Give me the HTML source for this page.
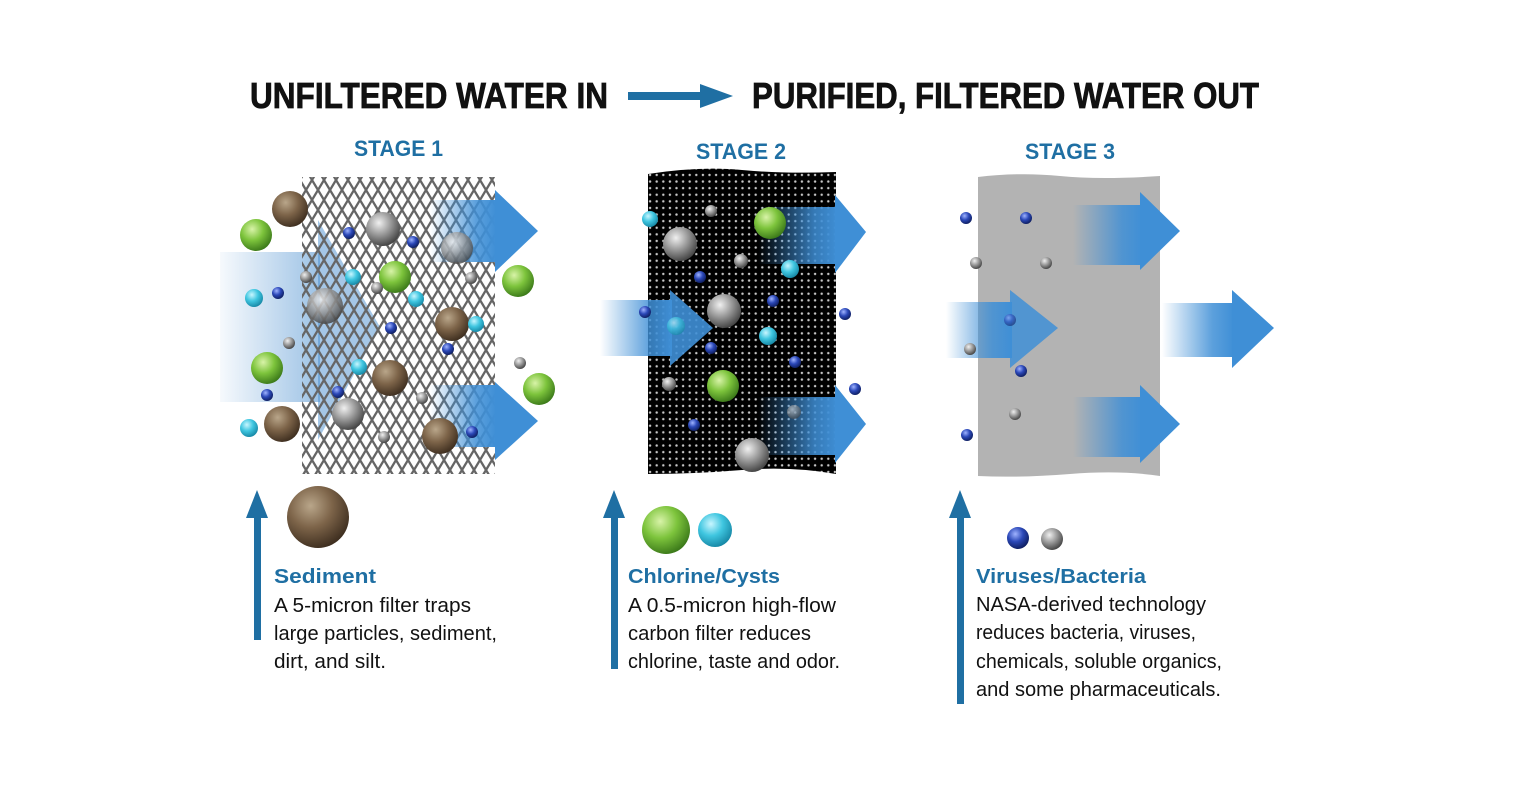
<!DOCTYPE html>
<html><head><style>
html,body{margin:0;padding:0;background:#fff;}
svg{display:block;}
</style></head><body>
<svg width="1536" height="803" viewBox="0 0 1536 803" xmlns="http://www.w3.org/2000/svg">
<defs>
<radialGradient id="gBrown" cx="0.38" cy="0.32" r="0.7"><stop offset="0" stop-color="#b9a68a"/><stop offset="0.5" stop-color="#7d6449"/><stop offset="1" stop-color="#3f2f20"/></radialGradient>
<radialGradient id="gGreen" cx="0.38" cy="0.32" r="0.7"><stop offset="0" stop-color="#d8f3a8"/><stop offset="0.5" stop-color="#7dc43c"/><stop offset="1" stop-color="#3c7a1a"/></radialGradient>
<radialGradient id="gCyan" cx="0.38" cy="0.32" r="0.7"><stop offset="0" stop-color="#c8f6ff"/><stop offset="0.5" stop-color="#3fc6e0"/><stop offset="1" stop-color="#1788a6"/></radialGradient>
<radialGradient id="gGray" cx="0.38" cy="0.32" r="0.7"><stop offset="0" stop-color="#f0f0f0"/><stop offset="0.5" stop-color="#9a9a9a"/><stop offset="1" stop-color="#444"/></radialGradient>
<radialGradient id="gBlue" cx="0.38" cy="0.32" r="0.7"><stop offset="0" stop-color="#9fb3ff"/><stop offset="0.5" stop-color="#2b48b8"/><stop offset="1" stop-color="#0e1e60"/></radialGradient>
<linearGradient id="fadeR" x1="0" x2="1" y1="0" y2="0"><stop offset="0" stop-color="#3f8fd6" stop-opacity="0"/><stop offset="0.7" stop-color="#3f8fd6" stop-opacity="0.85"/><stop offset="1" stop-color="#3f8fd6" stop-opacity="1"/></linearGradient>
<linearGradient id="fadeBig" x1="0" x2="1" y1="0" y2="0"><stop offset="0" stop-color="#4c90d0" stop-opacity="0.05"/><stop offset="1" stop-color="#4c90d0" stop-opacity="0.55"/></linearGradient>
<pattern id="mesh" width="12" height="20" patternUnits="userSpaceOnUse">
<path d="M0 0 L6 10 L0 20 M12 0 L6 10 L12 20" fill="none" stroke="#666" stroke-width="2.3"/>
</pattern>
<pattern id="dots" width="6.6" height="6.6" patternUnits="userSpaceOnUse">
<rect width="6.6" height="6.6" fill="#000"/><circle cx="3.3" cy="3.3" r="1.2" fill="#c8c8c8"/>
</pattern>
</defs>

<g font-family="Liberation Sans, sans-serif" font-weight="bold" fill="#111" stroke="#111" stroke-width="0.8">
<text x="250" y="108" font-size="36" textLength="358" lengthAdjust="spacingAndGlyphs">UNFILTERED WATER IN</text>
<text x="752" y="108" font-size="36" textLength="507" lengthAdjust="spacingAndGlyphs">PURIFIED, FILTERED WATER OUT</text>
</g>
<rect x="628" y="92" width="75" height="8" fill="#1f6fa3"/>
<polygon points="700,84 733,96 700,108" fill="#1f6fa3"/>

<g font-family="Liberation Sans, sans-serif" font-weight="bold" fill="#1f6fa3" font-size="22">
<text x="354" y="156" textLength="89" lengthAdjust="spacingAndGlyphs">STAGE 1</text>
<text x="696" y="159" textLength="90" lengthAdjust="spacingAndGlyphs">STAGE 2</text>
<text x="1025" y="159" textLength="90" lengthAdjust="spacingAndGlyphs">STAGE 3</text>
</g>

<rect x="220" y="252" width="100" height="150" fill="url(#fadeBig)"/>
<polygon points="318,220 380,327 318,440" fill="#4c90d0" fill-opacity="0.5"/>
<rect x="302" y="177" width="193" height="297" fill="url(#mesh)"/>
<rect x="430" y="200" width="66" height="62" fill="url(#fadeR)"/>
<polygon points="495,190 538,231 495,272" fill="#3f8fd6"/>
<rect x="430" y="385" width="66" height="62" fill="url(#fadeR)"/>
<polygon points="495,382 538,421 495,460" fill="#3f8fd6"/>
<g>
<circle cx="290" cy="209" r="18" fill="url(#gBrown)"/>
<circle cx="256" cy="235" r="16" fill="url(#gGreen)"/>
<circle cx="383" cy="229" r="17" fill="url(#gGray)"/>
<circle cx="349" cy="233" r="6" fill="url(#gBlue)"/>
<circle cx="413" cy="242" r="6" fill="url(#gBlue)"/>
<circle cx="457" cy="248" r="16" fill="url(#gGray)" opacity="0.8"/>
<circle cx="518" cy="281" r="16" fill="url(#gGreen)"/>
<circle cx="395" cy="277" r="16" fill="url(#gGreen)"/>
<circle cx="353" cy="277" r="8" fill="url(#gCyan)"/>
<circle cx="306" cy="277" r="6" fill="url(#gGray)"/>
<circle cx="377" cy="288" r="6" fill="url(#gGray)"/>
<circle cx="471" cy="278" r="6" fill="url(#gGray)"/>
<circle cx="254" cy="298" r="9" fill="url(#gCyan)"/>
<circle cx="278" cy="293" r="6" fill="url(#gBlue)"/>
<circle cx="325" cy="306" r="18" fill="url(#gGray)" opacity="0.85"/>
<circle cx="416" cy="299" r="8" fill="url(#gCyan)"/>
<circle cx="452" cy="324" r="17" fill="url(#gBrown)"/>
<circle cx="476" cy="324" r="8" fill="url(#gCyan)"/>
<circle cx="391" cy="328" r="6" fill="url(#gBlue)"/>
<circle cx="448" cy="349" r="6" fill="url(#gBlue)"/>
<circle cx="289" cy="343" r="6" fill="url(#gGray)"/>
<circle cx="267" cy="368" r="16" fill="url(#gGreen)"/>
<circle cx="359" cy="367" r="8" fill="url(#gCyan)"/>
<circle cx="390" cy="378" r="18" fill="url(#gBrown)"/>
<circle cx="520" cy="363" r="6" fill="url(#gGray)"/>
<circle cx="539" cy="389" r="16" fill="url(#gGreen)"/>
<circle cx="267" cy="395" r="6" fill="url(#gBlue)"/>
<circle cx="338" cy="392" r="6" fill="url(#gBlue)"/>
<circle cx="422" cy="398" r="6" fill="url(#gGray)"/>
<circle cx="348" cy="414" r="16" fill="url(#gGray)"/>
<circle cx="282" cy="424" r="18" fill="url(#gBrown)"/>
<circle cx="249" cy="428" r="9" fill="url(#gCyan)"/>
<circle cx="384" cy="437" r="6" fill="url(#gGray)"/>
<circle cx="440" cy="436" r="18" fill="url(#gBrown)"/>
<circle cx="472" cy="432" r="6" fill="url(#gBlue)"/>
</g>

<path d="M648 174 Q700 166 742 170 T836 172 L836 474 Q790 466 742 470 T648 474 Z" fill="url(#dots)"/>
<rect x="600" y="300" width="72" height="56" fill="url(#fadeR)"/>
<polygon points="670,290 713,328 670,366" fill="#3f8fd6" fill-opacity="0.9"/>
<rect x="758" y="207" width="80" height="57" fill="url(#fadeR)"/>
<polygon points="835,195 866,232 835,273" fill="#3f8fd6"/>
<rect x="758" y="397" width="80" height="58" fill="url(#fadeR)"/>
<polygon points="835,385 866,424 835,463" fill="#3f8fd6"/>
<g>
<circle cx="650" cy="219" r="8" fill="url(#gCyan)"/>
<circle cx="711" cy="211" r="6" fill="url(#gGray)"/>
<circle cx="770" cy="223" r="16" fill="url(#gGreen)"/>
<circle cx="680" cy="244" r="17" fill="url(#gGray)"/>
<circle cx="741" cy="261" r="7" fill="url(#gGray)"/>
<circle cx="790" cy="269" r="9" fill="url(#gCyan)"/>
<circle cx="700" cy="277" r="6" fill="url(#gBlue)"/>
<circle cx="773" cy="301" r="6" fill="url(#gBlue)"/>
<circle cx="645" cy="312" r="6" fill="url(#gBlue)"/>
<circle cx="724" cy="311" r="17" fill="url(#gGray)"/>
<circle cx="845" cy="314" r="6" fill="url(#gBlue)"/>
<circle cx="676" cy="326" r="9" fill="url(#gCyan)" opacity="0.7"/>
<circle cx="768" cy="336" r="9" fill="url(#gCyan)"/>
<circle cx="711" cy="348" r="6" fill="url(#gBlue)"/>
<circle cx="795" cy="362" r="6" fill="url(#gBlue)"/>
<circle cx="669" cy="384" r="7" fill="url(#gGray)"/>
<circle cx="723" cy="386" r="16" fill="url(#gGreen)"/>
<circle cx="855" cy="389" r="6" fill="url(#gBlue)"/>
<circle cx="794" cy="412" r="7" fill="url(#gGray)" opacity="0.6"/>
<circle cx="694" cy="425" r="6" fill="url(#gBlue)"/>
<circle cx="752" cy="455" r="17" fill="url(#gGray)"/>
</g>

<path d="M978 177 Q1020 172 1060 176 T1160 176 L1160 476 Q1120 470 1070 474 T978 476 Z" fill="#b3b3b3"/>
<rect x="946" y="302" width="66" height="56" fill="url(#fadeR)"/>
<polygon points="1010,290 1058,328 1010,368" fill="#3f8fd6" fill-opacity="0.85"/>
<rect x="1073" y="205" width="70" height="60" fill="url(#fadeR)"/>
<polygon points="1140,192 1180,231 1140,270" fill="#3f8fd6"/>
<rect x="1073" y="397" width="70" height="60" fill="url(#fadeR)"/>
<polygon points="1140,385 1180,424 1140,463" fill="#3f8fd6"/>
<rect x="1162" y="303" width="72" height="54" fill="url(#fadeR)"/>
<polygon points="1232,290 1274,328 1232,368" fill="#3f8fd6"/>
<g>
<circle cx="966" cy="218" r="6" fill="url(#gBlue)"/>
<circle cx="1026" cy="218" r="6" fill="url(#gBlue)"/>
<circle cx="976" cy="263" r="6" fill="url(#gGray)"/>
<circle cx="1046" cy="263" r="6" fill="url(#gGray)"/>
<circle cx="1010" cy="320" r="6" fill="url(#gBlue)" opacity="0.6"/>
<circle cx="970" cy="349" r="6" fill="url(#gGray)"/>
<circle cx="1021" cy="371" r="6" fill="url(#gBlue)"/>
<circle cx="1015" cy="414" r="6" fill="url(#gGray)"/>
<circle cx="967" cy="435" r="6" fill="url(#gBlue)"/>
</g>

<g fill="#1f6fa3">
<rect x="254" y="515" width="7" height="125"/><polygon points="246,518 257,490 268,518"/>
<rect x="611" y="515" width="7" height="154"/><polygon points="603,518 614,490 625,518"/>
<rect x="957" y="515" width="7" height="189"/><polygon points="949,518 960,490 971,518"/>
</g>
<circle cx="318" cy="517" r="31" fill="url(#gBrown)"/>
<circle cx="666" cy="530" r="24" fill="url(#gGreen)"/>
<circle cx="715" cy="530" r="17" fill="url(#gCyan)"/>
<circle cx="1018" cy="538" r="11" fill="url(#gBlue)"/>
<circle cx="1052" cy="539" r="11" fill="url(#gGray)"/>

<g font-family="Liberation Sans, sans-serif" font-size="20">
<text x="274" y="583" font-weight="bold" fill="#1f6fa3" textLength="102" lengthAdjust="spacingAndGlyphs">Sediment</text>
<text x="274" y="612" fill="#111" textLength="197" lengthAdjust="spacingAndGlyphs">A 5-micron filter traps</text>
<text x="274" y="640" fill="#111" textLength="223" lengthAdjust="spacingAndGlyphs">large particles, sediment,</text>
<text x="274" y="668" fill="#111" textLength="112" lengthAdjust="spacingAndGlyphs">dirt, and silt.</text>

<text x="628" y="583" font-weight="bold" fill="#1f6fa3" textLength="152" lengthAdjust="spacingAndGlyphs">Chlorine/Cysts</text>
<text x="628" y="612" fill="#111" textLength="208" lengthAdjust="spacingAndGlyphs">A 0.5-micron high-flow</text>
<text x="628" y="640" fill="#111" textLength="183" lengthAdjust="spacingAndGlyphs">carbon filter reduces</text>
<text x="628" y="668" fill="#111" textLength="212" lengthAdjust="spacingAndGlyphs">chlorine, taste and odor.</text>

<text x="976" y="583" font-weight="bold" fill="#1f6fa3" textLength="170" lengthAdjust="spacingAndGlyphs">Viruses/Bacteria</text>
<text x="976" y="611" fill="#111" textLength="230" lengthAdjust="spacingAndGlyphs">NASA-derived technology</text>
<text x="976" y="639" fill="#111" textLength="220" lengthAdjust="spacingAndGlyphs">reduces bacteria, viruses,</text>
<text x="976" y="668" fill="#111" textLength="246" lengthAdjust="spacingAndGlyphs">chemicals, soluble organics,</text>
<text x="976" y="696" fill="#111" textLength="245" lengthAdjust="spacingAndGlyphs">and some pharmaceuticals.</text>
</g>
</svg>
</body></html>
